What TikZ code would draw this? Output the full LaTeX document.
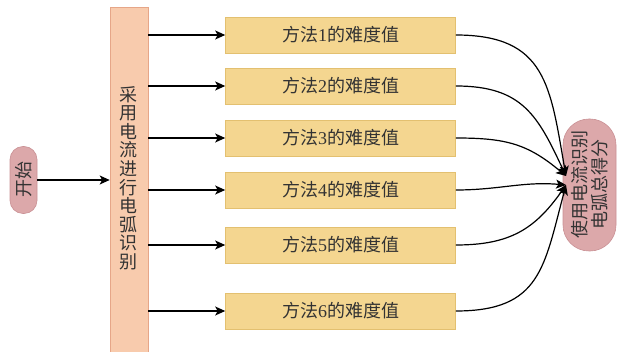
\documentclass[tikz,border=0pt]{standalone}
\usepackage{fontspec}
\setmainfont{Liberation Serif}
\newfontfamily\cjk{Noto Sans CJK SC}
\usetikzlibrary{arrows.meta}
\definecolor{barfill}{HTML}{F8CBAD}
\definecolor{barline}{HTML}{E6A688}
\definecolor{boxfill}{HTML}{F4D690}
\definecolor{boxline}{HTML}{E3C070}
\definecolor{pillfill}{HTML}{DCA8AA}
\definecolor{pillline}{HTML}{C99094}
\tikzset{
  conn/.style={draw=black, line width=1.2pt, -{Stealth[length=10pt,width=9pt,inset=2.5pt]}},
  methodbox/.style={draw=boxline, fill=boxfill, line width=0.6pt, minimum width=230pt, minimum height=36pt, inner sep=0pt, font=\fontsize{18}{20}\selectfont, text=black!80},
  pill/.style={draw=pillline, fill=pillfill, line width=0.6pt, rounded corners=13pt, inner sep=0pt, text=black!80},
}
\begin{document}
\begin{tikzpicture}[x=1pt,y=-1pt]
\useasboundingbox (0,0) rectangle (623,352);
% start
\node[pill, minimum width=27pt, minimum height=67pt] (start) at (23.5,180) {};
\node[rotate=90, font=\fontsize{18}{20}\selectfont\cjk, text=black!80] (starttext) at (start.center) {开始};
% bar
\node[draw=barline, fill=barfill, line width=0.6pt, minimum width=38pt, minimum height=345pt, inner sep=0pt] (bar) at (129,179.5) {};
\node[align=center, font=\fontsize{18}{18.6}\selectfont\cjk, text=black!80] (bartext) at (128,178) {采\\用\\电\\流\\进\\行\\电\\弧\\识\\别};
% end node
\node[pill, rounded corners=26pt, minimum width=53pt, minimum height=132pt] (end) at (589.5,185) {};
\node[rotate=90, align=center, font=\fontsize{18}{20}\selectfont\cjk, text=black!80] (endtext) at (end.center) {使用电流识别\\电弧总得分};
% method boxes
\foreach \i/\y in {1/35,2/86,3/138,4/190,5/245,6/311}{
  \node[methodbox] (m\i) at (340.5,\y) {{\cjk 方法}\i{\cjk 的难度值}};
  \draw[conn] (bar.east |- m\i.west) -- (m\i.west);
}
\draw[conn] (start.east) -- (bar.west |- start.east);
\coordinate (t1) at (566,176);
\coordinate (t4) at (566,185);
\draw[conn] (m1.east) to[out=0,in=100,looseness=1.3] (t1);
\draw[conn] (m2.east) to[out=0,in=115,looseness=1.2] (t1);
\draw[conn] (m3.east) to[out=0,in=140,looseness=1.1] (t1);
\draw[conn] (m4.east) to[out=0,in=175,looseness=1.0] (t4);
\draw[conn] (m5.east) to[out=0,in=235,looseness=1.1] (t4);
\draw[conn] (m6.east) to[out=0,in=255,looseness=1.3] (t4);
\end{tikzpicture}
\end{document}
